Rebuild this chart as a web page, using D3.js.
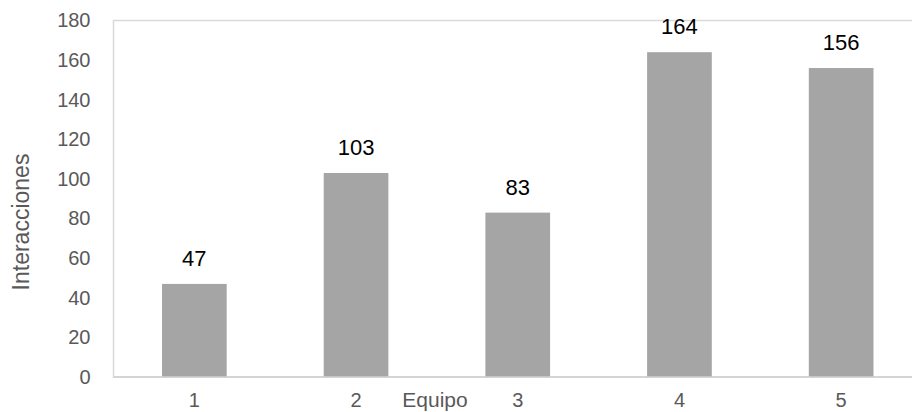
<!DOCTYPE html>
<html><head><meta charset="utf-8">
<script src="https://cdn.jsdelivr.net/npm/d3@7"></script>
<style>body{margin:0;background:#fff}svg{display:block}</style>
</head><body><svg id="c" width="912" height="412"></svg>
<script>
const categories = ["1","2","3","4","5"];
const values = [47,103,83,164,156];
const yTicks = [0,20,40,60,80,100,120,140,160,180];
const xTitle = "Equipo";
const yTitle = "Interacciones";

const FONT = "Liberation Sans, Arial, sans-serif";
const svg = d3.select("#c");
const L = 113.5, R = 922, T = 20.5, B = 377;
const x = d3.scaleBand().domain(categories).range([L, R]).paddingInner(0.6).paddingOuter(0.3);
const y = d3.scaleLinear().domain([0,180]).range([B, T]);

// plot border
svg.append("rect").attr("x",L).attr("y",T).attr("width",R-L).attr("height",B-T)
  .attr("fill","none").attr("stroke","#d9d9d9").attr("stroke-width",1.5);

svg.selectAll("rect.bar").data(values).join("rect").attr("class","bar")
  .attr("x",(d,i)=>x(categories[i])).attr("width",x.bandwidth())
  .attr("y",d=>y(d)).attr("height",d=>B-y(d)).attr("fill","#a5a5a5");

svg.selectAll("text.lbl").data(values).join("text").attr("class","lbl")
  .attr("x",(d,i)=>x(categories[i])+x.bandwidth()/2).attr("y",d=>y(d)-18)
  .attr("text-anchor","middle").attr("font-family",FONT)
  .attr("font-size",22).attr("fill","#000").text(d=>d);

const ya = svg.append("g").attr("transform",`translate(${L},0)`)
  .call(d3.axisLeft(y).tickValues(yTicks).tickSize(0).tickPadding(23));
ya.select(".domain").remove();
ya.selectAll("text").attr("font-family",FONT).attr("font-size",20).attr("fill","#595959");

const xa = svg.append("g").attr("transform",`translate(0,${B})`)
  .call(d3.axisBottom(x).tickSize(0).tickPadding(16));
xa.select(".domain").remove();
xa.selectAll("text").attr("font-family",FONT).attr("font-size",20).attr("fill","#595959");

svg.append("line").attr("x1",L).attr("x2",R).attr("y1",B).attr("y2",B).attr("stroke","#d0d0d0").attr("stroke-width",1.5);

svg.append("text").attr("x",435).attr("y",407).attr("text-anchor","middle")
  .attr("font-family",FONT).attr("font-size",21).attr("fill","#595959").text(xTitle);
svg.append("text").attr("transform","translate(29,222) rotate(-90)").attr("text-anchor","middle")
  .attr("font-family",FONT).attr("font-size",23).attr("fill","#595959").text(yTitle);
</script></body></html>
